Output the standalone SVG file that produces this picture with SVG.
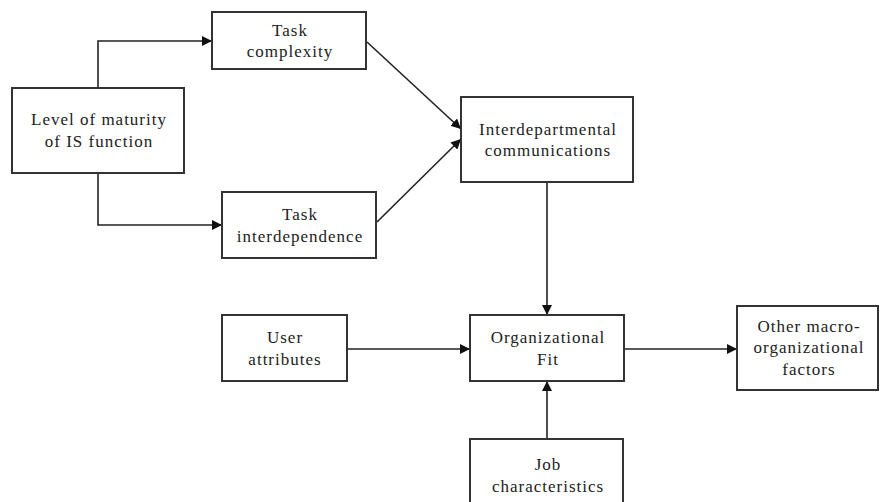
<svg xmlns="http://www.w3.org/2000/svg" width="880" height="502" viewBox="0 0 880 502">
  <style>
    .box { fill: #ffffff; stroke: #333333; stroke-width: 2; }
    .lbl { font-family: "Liberation Serif", "Times New Roman", Times, serif; font-size: 17px; letter-spacing: 1px; fill: #222222; text-anchor: middle; }
    .wire { fill: none; stroke: #222222; stroke-width: 1.6; }
  </style>
  <defs>
    <marker id="arrow" viewBox="0 0 10 10" refX="10" refY="5" markerWidth="10" markerHeight="10" markerUnits="userSpaceOnUse" orient="auto">
      <path d="M0,0 L10,5 L0,10 Z" fill="#111111"/>
    </marker>
  </defs>
  <rect width="880" height="502" fill="#ffffff"/>

  <g id="connectors">
    <path class="wire" d="M98,88 V41 H212" marker-end="url(#arrow)"/>
    <path class="wire" d="M98,173 V225 H222" marker-end="url(#arrow)"/>
    <path class="wire" d="M367,42 L461,129" marker-end="url(#arrow)"/>
    <path class="wire" d="M377,222 L461,139" marker-end="url(#arrow)"/>
    <path class="wire" d="M547,182 V315" marker-end="url(#arrow)"/>
    <path class="wire" d="M347,349 H470" marker-end="url(#arrow)"/>
    <path class="wire" d="M547,439 V381" marker-end="url(#arrow)"/>
    <path class="wire" d="M624,349 H737" marker-end="url(#arrow)"/>
  </g>

  <g id="task-complexity">
    <rect class="box" x="212" y="12" width="154" height="57"/>
    <text class="lbl" x="290" y="36">Task</text>
    <text class="lbl" x="290" y="57">complexity</text>
  </g>

  <g id="maturity">
    <rect class="box" x="12" y="88" width="172" height="85"/>
    <text class="lbl" x="99" y="125">Level of maturity</text>
    <text class="lbl" x="99" y="147">of IS function</text>
  </g>

  <g id="task-interdependence">
    <rect class="box" x="222" y="192" width="154" height="66"/>
    <text class="lbl" x="300" y="220">Task</text>
    <text class="lbl" x="300" y="242">interdependence</text>
  </g>

  <g id="interdepartmental">
    <rect class="box" x="461" y="97" width="172" height="85"/>
    <text class="lbl" x="548" y="135">Interdepartmental</text>
    <text class="lbl" x="548" y="156">communications</text>
  </g>

  <g id="user-attributes">
    <rect class="box" x="222" y="315" width="125" height="66"/>
    <text class="lbl" x="285" y="343">User</text>
    <text class="lbl" x="285" y="365">attributes</text>
  </g>

  <g id="organizational-fit">
    <rect class="box" x="470" y="315" width="154" height="66"/>
    <text class="lbl" x="548" y="343">Organizational</text>
    <text class="lbl" x="548" y="365">Fit</text>
  </g>

  <g id="job-characteristics">
    <rect class="box" x="470" y="439" width="153" height="80"/>
    <text class="lbl" x="548" y="470">Job</text>
    <text class="lbl" x="548" y="492">characteristics</text>
  </g>

  <g id="macro-factors">
    <rect class="box" x="737" y="306" width="141" height="84"/>
    <text class="lbl" x="809" y="332">Other macro-</text>
    <text class="lbl" x="809" y="353">organizational</text>
    <text class="lbl" x="809" y="375">factors</text>
  </g>
</svg>
